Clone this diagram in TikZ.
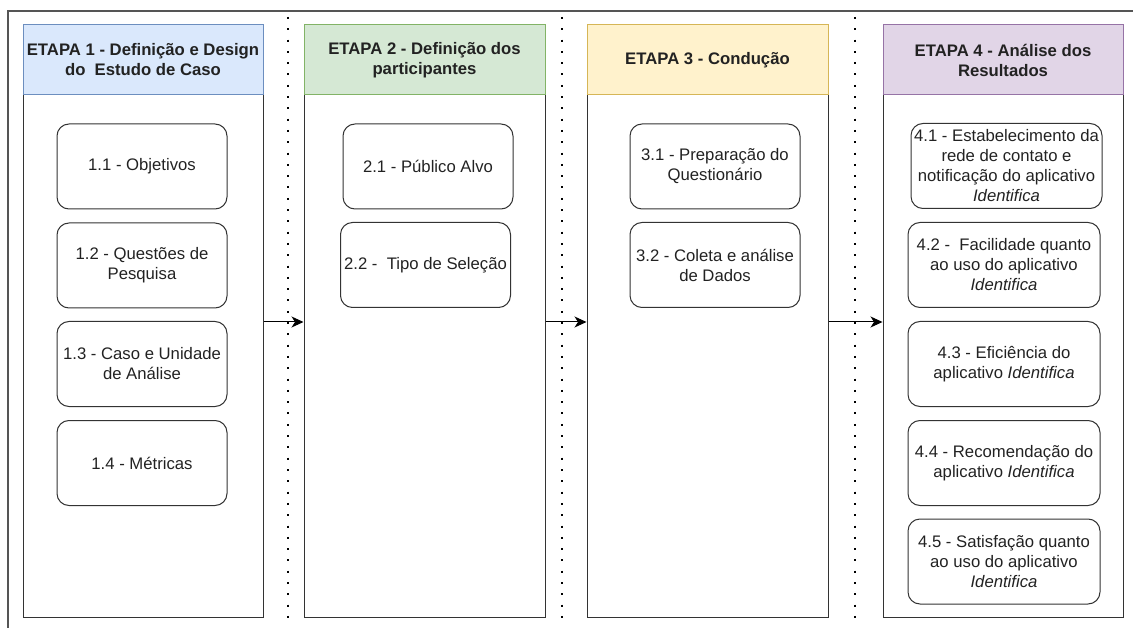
\documentclass[tikz,border=0pt]{standalone}
\usepackage{fontspec}
\setmainfont{Liberation Sans}
\usetikzlibrary{arrows.meta}
\definecolor{h1f}{HTML}{DAE8FC}\definecolor{h1d}{HTML}{6C8EBF}
\definecolor{h2f}{HTML}{D5E8D4}\definecolor{h2d}{HTML}{82B366}
\definecolor{h3f}{HTML}{FFF2CC}\definecolor{h3d}{HTML}{D6B656}
\definecolor{h4f}{HTML}{E1D5E7}\definecolor{h4d}{HTML}{9673A6}
\definecolor{bodyc}{HTML}{333333}
\definecolor{txt}{HTML}{222222}
\definecolor{framec}{HTML}{555555}
\begin{document}
\begin{tikzpicture}[x=1pt,y=-1pt,
  every node/.style={font=\fontsize{16.7}{20}\selectfont, align=center, inner sep=0pt, text=txt},
  hdr/.style={draw, line width=1pt, minimum width=240pt, minimum height=70pt, font=\fontsize{16.7}{20}\selectfont\bfseries},
  body/.style={draw=bodyc, line width=1pt, minimum width=240pt, minimum height=522pt},
  item/.style={draw=bodyc, line width=1pt, rounded corners=12pt, minimum width=170pt, minimum height=85pt},
  itemw/.style={item, minimum width=192pt},
  sep/.style={line width=2pt, dash pattern=on 2pt off 9.3pt, black},
  arr/.style={draw=black, line width=1pt, -{Stealth[length=12pt,width=11pt,inset=3.5pt]}}
]
\useasboundingbox (0,0) rectangle (1133,628);
\clip (0,0) rectangle (1133,628);
% outer frame
\draw[framec, line width=1.3pt] (8,11) rectangle (1160,660);
% separators
\coordinate (s1t) at (288,17); \coordinate (s1b) at (288,626);
\coordinate (s2t) at (562,17); \coordinate (s2b) at (562,626);
\coordinate (s3t) at (855,17); \coordinate (s3b) at (855,626);
\draw[sep] (s1t) -- (s1b);
\draw[sep] (s2t) -- (s2b);
\draw[sep] (s3t) -- (s3b);
% column bodies
\node[body] (b1) at (143,356) {};
\node[body, minimum width=241pt] (b2) at (424.5,356) {};
\node[body, minimum width=241pt] (b3) at (707.5,356) {};
\node[body] (b4) at (1003,356) {};
% headers
\node[hdr, fill=h1f, draw=h1d] (h1) at (143,60) {ETAPA 1 - Definição e Design\\do\ \ Estudo de Caso};
\node[hdr, fill=h2f, draw=h2d, minimum width=241pt] (h2) at (424.5,60) {ETAPA 2 - Definição dos\\participantes};
\node[hdr, fill=h3f, draw=h3d, minimum width=241pt] (h3) at (707.5,60) {ETAPA 3 - Condução};
\node[hdr, fill=h4f, draw=h4d] (h4) at (1003,60) {ETAPA 4 - Análise dos\\Resultados};
% column 1
\node[item] (i11) at (142,166.5) {1.1 - Objetivos};
\node[item] (i12) at (142,265.5) {1.2 - Questões de\\Pesquisa};
\node[item] (i13) at (142,364) {1.3 - Caso e Unidade\\de Análise};
\node[item] (i14) at (142,463) {1.4 - Métricas};
% column 2
\node[item] (i21) at (428,166.5) {2.1 - Público Alvo};
\node[item] (i22) at (425.5,265) {2.2 -\ \ Tipo de Seleção};
% column 3
\node[item] (i31) at (715,166.5) {3.1 - Preparação do\\Questionário};
\node[item] (i32) at (715,265) {3.2 - Coleta e análise\\de Dados};
% column 4
\node[itemw, minimum width=191pt] (i41) at (1006.5,166) {4.1 - Estabelecimento da\\rede de contato e\\notificação do aplicativo\\\textit{Identifica}};
\node[itemw] (i42) at (1004,265) {4.2 -\ \ Facilidade quanto\\ao uso do aplicativo\\\textit{Identifica}};
\node[itemw] (i43) at (1004,364) {4.3 - Eficiência do\\aplicativo \textit{Identifica}};
\node[itemw] (i44) at (1004,463) {4.4 - Recomendação do\\aplicativo \textit{Identifica}};
\node[itemw] (i45) at (1004,561.5) {4.5 - Satisfação quanto\\ao uso do aplicativo\\\textit{Identifica}};
% arrows
\coordinate (ay) at (0,322);
\draw[arr] (b1.east |- ay) -- (b2.west |- ay);
\draw[arr] (b2.east |- ay) -- (b3.west |- ay);
\draw[arr] (b3.east |- ay) -- (b4.west |- ay);
\end{tikzpicture}
\end{document}
